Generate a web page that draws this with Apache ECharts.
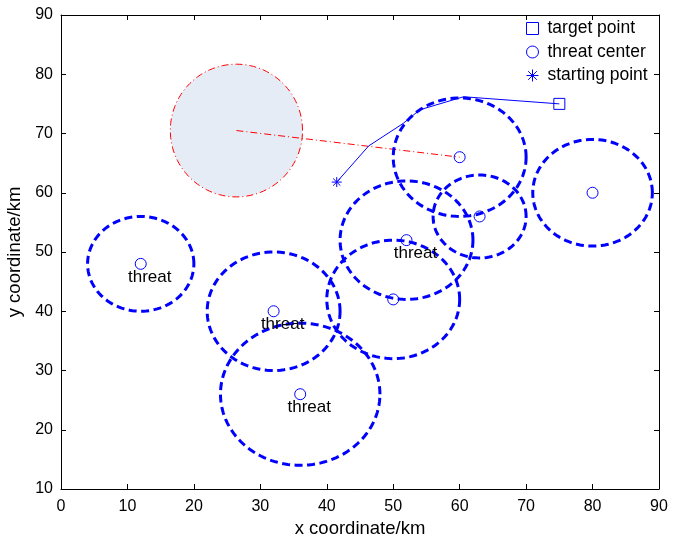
<!DOCTYPE html>
<html>
<head>
<meta charset="utf-8">
<script src="https://cdn.jsdelivr.net/npm/echarts@6/dist/echarts.min.js"></script>
<style>html,body{margin:0;padding:0;background:#fff}#c{width:673px;height:536px}</style>
</head>
<body>
<div id="c"></div>
<script>
const xTicks = [0, 90, 10];
const yTicks = [10, 90, 10];
const threatCenters = [[12,48],[32,40],[36,26],[50,42],[52,52],[60,66],[63,56],[80,60]];
const threatRadii = [8,10,12,10,10,10,7,9];
const threatLabeled = [true,true,true,false,true,false,false,false];
const threatLabelText = 'threat';
const pathPoints = [[41.5,61.8],[46.3,67.9],[51.5,71.7],[54,74],[60.6,76.2],[75,75]];
const targetPoint = [75,75];
const startPoint = [41.5,61.8];
const obstacleCenter = [26.4,70.5];
const obstacleRadii = [9.95,11.2];
const obstacleLine = [[26.4,70.5],[60,66]];
const legendNames = ['target point','threat center','starting point'];

const FONT = 'Liberation Sans, Arial, Helvetica, sans-serif';
const BLUE = '#0000ff';
const starPath = 'path://M0,-5L0,5M-5,0L5,0M-3.6,-3.6L3.6,3.6M-3.6,3.6L3.6,-3.6';

function ellipsePoints(api, cx, cy, rx, ry) {
  const pts = [];
  const n = 120;
  for (let k = 0; k < n; k++) {
    const t = 2 * Math.PI * k / n;
    pts.push(api.coord([cx + rx * Math.cos(t), cy + ry * Math.sin(t)]));
  }
  return pts;
}

const chart = echarts.init(document.getElementById('c'));
const axisCommon = {
  type: 'value',
  axisLine: { show: true, onZero: false, lineStyle: { color: '#000', width: 1 } },
  axisTick: { show: true, inside: true, length: 5, lineStyle: { color: '#000' } },
  splitLine: { show: false },
  axisLabel: { color: '#000', fontSize: 16, fontFamily: FONT }
};
chart.setOption({
  animation: false,
  grid: { left: 61, right: 14, top: 15, bottom: 47, containLabel: false, outerBoundsMode: 'none' },
  xAxis: [
    Object.assign({}, axisCommon, { min: xTicks[0], max: xTicks[1], interval: xTicks[2], position: 'bottom',
      name: 'x coordinate/km', nameLocation: 'middle', nameGap: 28,
      nameTextStyle: { color: '#000', fontSize: 18.5, fontFamily: FONT },
      axisLabel: Object.assign({}, axisCommon.axisLabel, { margin: 10 }) }),
    Object.assign({}, axisCommon, { min: xTicks[0], max: xTicks[1], interval: xTicks[2], position: 'top',
      axisLabel: { show: false } })
  ],
  yAxis: [
    Object.assign({}, axisCommon, { min: yTicks[0], max: yTicks[1], interval: yTicks[2], position: 'left',
      name: 'y coordinate/km', nameLocation: 'middle', nameGap: 32, nameRotate: 90,
      nameTextStyle: { color: '#000', fontSize: 18.5, fontFamily: FONT },
      axisLabel: Object.assign({}, axisCommon.axisLabel, { margin: 8 }) }),
    Object.assign({}, axisCommon, { min: yTicks[0], max: yTicks[1], interval: yTicks[2], position: 'right',
      axisLabel: { show: false } })
  ],
  legend: {
    orient: 'vertical', left: 521, top: 14.5,
    itemWidth: 12, itemHeight: 12, itemGap: 5.5,
    textStyle: { color: '#000', fontSize: 17.5, lineHeight: 17, fontFamily: FONT, padding: [0, 0, 0, 4] },
    data: [
      { name: legendNames[0], icon: 'rect', itemStyle: { color: 'rgba(0,0,0,0)', borderColor: BLUE, borderWidth: 1 } },
      { name: legendNames[1], icon: 'circle', itemStyle: { color: 'rgba(0,0,0,0)', borderColor: BLUE, borderWidth: 1 } },
      { name: legendNames[2], icon: starPath, itemStyle: { color: BLUE, borderColor: BLUE, borderWidth: 1 } }
    ]
  },
  series: [
    {
      type: 'custom', name: 'obstacle', silent: true, z: 1,
      data: [[obstacleCenter[0], obstacleCenter[1], obstacleRadii[0], obstacleRadii[1]]],
      renderItem: function (params, api) {
        return { type: 'polygon', shape: { points: ellipsePoints(api, api.value(0), api.value(1), api.value(2), api.value(3)) },
          style: { fill: '#e6ecf6', stroke: '#ff0000', lineWidth: 1, lineDash: [7, 3, 1, 3] } };
      }
    },
    {
      type: 'line', name: 'obstacleLine', data: obstacleLine, symbol: 'none', z: 2,
      lineStyle: { color: '#ff0000', width: 1, type: [7, 3, 1, 3] }
    },
    {
      type: 'line', name: 'path', data: pathPoints, symbol: 'none', z: 3,
      lineStyle: { color: BLUE, width: 1 }
    },
    {
      type: 'custom', name: 'threats', silent: true, z: 4,
      data: threatCenters.map((c, i) => [c[0], c[1], threatRadii[i]]),
      renderItem: function (params, api) {
        const r = api.value(2);
        return { type: 'polygon', shape: { points: ellipsePoints(api, api.value(0), api.value(1), r, r) },
          style: { fill: 'none', stroke: BLUE, lineWidth: 3, lineDash: [8, 4.5] } };
      }
    },
    {
      type: 'scatter', name: legendNames[1], z: 5, symbol: 'circle', symbolSize: 11,
      itemStyle: { color: 'rgba(0,0,0,0)', borderColor: BLUE, borderWidth: 1, opacity: 1 },
      data: threatCenters.map((c, i) => ({
        value: c,
        label: { show: threatLabeled[i], formatter: threatLabelText, position: 'inside', offset: [9, 13],
          color: '#000', fontSize: 17, fontFamily: FONT }
      }))
    },
    {
      type: 'scatter', name: legendNames[0], z: 5, symbol: 'rect', symbolSize: 11,
      itemStyle: { color: 'rgba(0,0,0,0)', borderColor: BLUE, borderWidth: 1, opacity: 1 },
      data: [targetPoint]
    },
    {
      type: 'scatter', name: legendNames[2], z: 5, symbol: starPath, symbolSize: 10,
      itemStyle: { color: BLUE, borderColor: BLUE, borderWidth: 1, opacity: 1 },
      data: [startPoint]
    }
  ]
});
</script>
</body>
</html>
